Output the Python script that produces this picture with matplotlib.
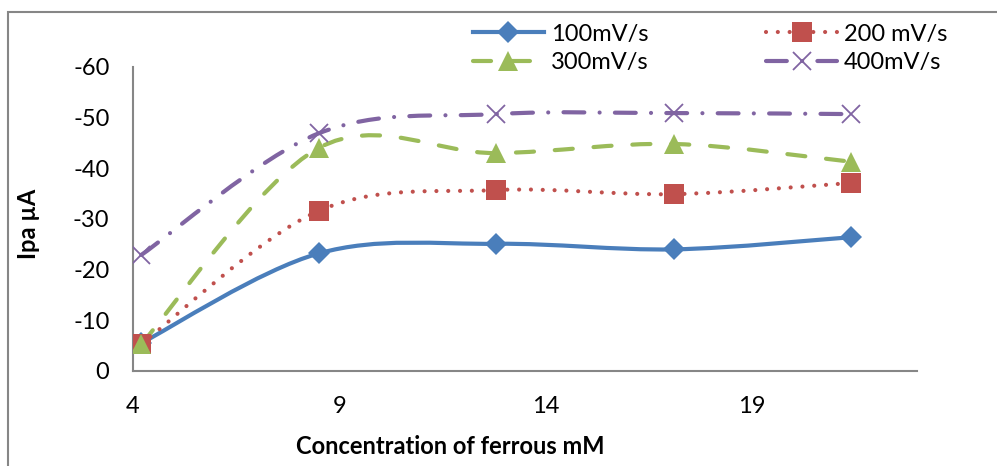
import numpy as np
import matplotlib
matplotlib.use("Agg")
import matplotlib.pyplot as plt
from matplotlib.path import Path
from matplotlib.patches import PathPatch, Rectangle
from matplotlib.lines import Line2D

# concentration of ferrous (mM) and anodic peak current (uA)
conc = [4.2, 8.5, 12.8, 17.1, 21.4]
ipa_100 = [-5.5, -23.2, -25.1, -24.0, -26.4]
ipa_200 = [-5.3, -31.6, -35.7, -34.9, -37.1]
ipa_300 = [-5.3, -44.0, -43.0, -44.8, -41.3]
ipa_400 = [-22.9, -46.9, -50.7, -50.9, -50.7]
labels = ["100mV/s", "200 mV/s", "300mV/s", "400mV/s"]
xticks = [4, 9, 14, 19]
yticks = [0, -10, -20, -30, -40, -50, -60]

plt.rcParams['font.family'] = ['Lato', 'DejaVu Sans']
plt.rcParams['lines.scale_dashes'] = False


def smooth_path(ax, xs, ys):
    # excel-like smoothed line: catmull-rom bezier in screen space
    pts = ax.transData.transform(np.column_stack([xs, ys]))
    n = len(pts)
    verts = [pts[0]]
    codes = [Path.MOVETO]
    for i in range(n - 1):
        p0 = pts[max(i - 1, 0)]
        p1 = pts[i]
        p2 = pts[i + 1]
        p3 = pts[min(i + 2, n - 1)]
        c1 = p1 + (p2 - p0) / 6.0
        c2 = p2 - (p3 - p1) / 6.0
        verts += [c1, c2, p2]
        codes += [Path.CURVE4] * 3
    verts = ax.transData.inverted().transform(np.array(verts))
    return Path(verts, codes)


fig = plt.figure(figsize=(9.97, 4.66), dpi=100)
ax = fig.add_axes([0.1334, 0.2039, 0.7864, 0.6524])
ax.set_xlim(4, 23)
ax.set_ylim(0, -60)

series = [
    (ipa_100, "#4A7EBB", "D", 11, dict(linestyle="-")),
    (ipa_200, "#C0504D", "s", 14, dict(dashes=(0.01, 8.5), dash_capstyle="round")),
    (ipa_300, "#9BBB59", "^", 15, dict(dashes=(13, 15), dash_capstyle="round")),
    (ipa_400, "#8064A2", "x", 13, dict(dashes=(15, 11, 0.01, 11), dash_capstyle="round")),
]

handles = []
for ys, col, mk, ms, style in series:
    path = smooth_path(ax, conc, ys)
    patch = PathPatch(path, facecolor="none", edgecolor=col, lw=3.0,
                      capstyle="round", zorder=2)
    if "dashes" in style:
        patch.set_linestyle((0, style["dashes"]))
    ax.add_patch(patch)
    mew = 1.3 if mk == "x" else 0
    ax.plot(conc, ys, linestyle="none", marker=mk, ms=ms, color=col,
            mec=col, mew=mew, zorder=3)
    h = Line2D([], [], color=col, lw=3.0, marker=mk, ms=ms, mew=mew,
               **style)
    handles.append(h)

ax.set_xticks(xticks)
ax.set_xticklabels([str(t) for t in xticks])
ax.set_yticks(yticks)
ax.set_yticklabels([str(t) for t in yticks])
ax.tick_params(length=0, labelsize=17)
ax.tick_params(axis="y", pad=17)
ax.tick_params(axis="x", pad=18)
for s in ["top", "right"]:
    ax.spines[s].set_visible(False)
for s in ["left", "bottom"]:
    ax.spines[s].set_color("#868686")
    ax.spines[s].set_linewidth(1.5)

fig.text(450 / 997, 1 - 446 / 466, "Concentration of ferrous mM",
         ha="center", va="center", fontsize=17, fontweight="bold")
fig.text(28 / 997, 1 - 224 / 466, "Ipa \u00b5A", rotation=90,
         ha="center", va="center", fontsize=17, fontweight="bold")

order = [0, 2, 1, 3]
fig.legend([handles[i] for i in order], [labels[i] for i in order],
           ncol=2, loc="upper left", bbox_to_anchor=(468 / 997, 1 - 19 / 466),
           frameon=False, fontsize=17, handlelength=3.0, numpoints=1,
           columnspacing=5.0, handletextpad=0.3, labelspacing=0.3,
           borderaxespad=0, borderpad=0.2)

fig.add_artist(Rectangle((8 / 997, -0.1), 1.2, 1.1 - 12 / 466,
                         transform=fig.transFigure, fill=False,
                         edgecolor="#868686", lw=1.5, clip_on=False))

fig.savefig("out.png", dpi=100)
